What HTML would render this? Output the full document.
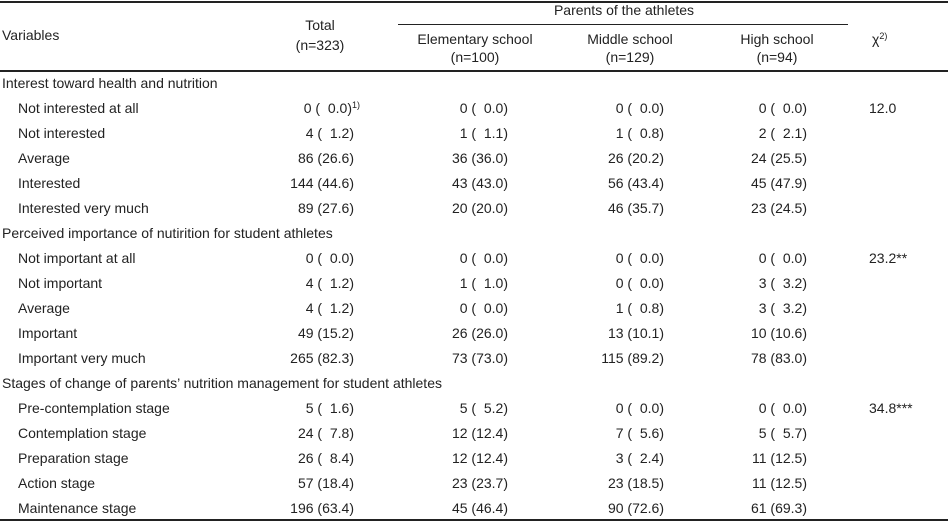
<!DOCTYPE html>
<html><head><meta charset="utf-8">
<style>
body{margin:0;background:#fff;}
#t{position:relative;width:948px;height:521px;font-family:"Liberation Sans",sans-serif;font-size:14px;color:#222;overflow:hidden;}
#t div{position:absolute;white-space:pre;line-height:18px;}
.hl{background:#222;height:2px;}
.r{text-align:right;}
.c{text-align:center;}
sup{font-size:9px;vertical-align:5px;line-height:0;}
</style></head><body>
<div id="t">
<div class="hl" style="left:0;top:1px;width:948px;"></div>
<div class="hl" style="left:0;top:70px;width:948px;"></div>
<div class="hl" style="left:398px;top:24px;width:450px;height:1px;"></div>
<div class="hl" style="left:0;top:519px;width:948px;"></div>
<div style="left:2px;top:26px;">Variables</div>
<div class="c" style="left:270px;width:100px;top:16px;">Total</div>
<div class="c" style="left:270px;width:100px;top:36px;">(n=323)</div>
<div class="c" style="left:474px;width:300px;top:1px;">Parents of the athletes</div>
<div class="c" style="left:400px;width:150px;top:30px;">Elementary school<br>(n=100)</div>
<div class="c" style="left:555px;width:150px;top:30px;">Middle school<br>(n=129)</div>
<div class="c" style="left:702px;width:150px;top:30px;">High school<br>(n=94)</div>
<div style="left:872px;top:30px;">χ<sup>2)</sup></div>
</div>
<script>
const rows=[
["s","Interest toward health and nutrition"],
["Not interested at all","0 (  0.0)","0 (  0.0)","0 (  0.0)","0 (  0.0)","12.0"],
["Not interested","4 (  1.2)","1 (  1.1)","1 (  0.8)","2 (  2.1)",""],
["Average","86 (26.6)","36 (36.0)","26 (20.2)","24 (25.5)",""],
["Interested","144 (44.6)","43 (43.0)","56 (43.4)","45 (47.9)",""],
["Interested very much","89 (27.6)","20 (20.0)","46 (35.7)","23 (24.5)",""],
["s","Perceived importance of nutirition for student athletes"],
["Not important at all","0 (  0.0)","0 (  0.0)","0 (  0.0)","0 (  0.0)","23.2**"],
["Not important","4 (  1.2)","1 (  1.0)","0 (  0.0)","3 (  3.2)",""],
["Average","4 (  1.2)","0 (  0.0)","1 (  0.8)","3 (  3.2)",""],
["Important","49 (15.2)","26 (26.0)","13 (10.1)","10 (10.6)",""],
["Important very much","265 (82.3)","73 (73.0)","115 (89.2)","78 (83.0)",""],
["s","Stages of change of parents’ nutrition management for student athletes"],
["Pre-contemplation stage","5 (  1.6)","5 (  5.2)","0 (  0.0)","0 (  0.0)","34.8***"],
["Contemplation stage","24 (  7.8)","12 (12.4)","7 (  5.6)","5 (  5.7)",""],
["Preparation stage","26 (  8.4)","12 (12.4)","3 (  2.4)","11 (12.5)",""],
["Action stage","57 (18.4)","23 (23.7)","23 (18.5)","11 (12.5)",""],
["Maintenance stage","196 (63.4)","45 (46.4)","90 (72.6)","61 (69.3)",""]
];
const rights=[354,508,664,807];
const t=document.getElementById('t');
rows.forEach((r,i)=>{
  const top=83+25*i-9;
  if(r[0]==="s"){
    const d=document.createElement('div');
    
    
    d.style.left='2px';d.style.top=top+'px';d.textContent=r[1];t.appendChild(d);return;
  }
  const l=document.createElement('div');
  
  
  l.style.left='18px';l.style.top=top+'px';l.textContent=r[0];t.appendChild(l);
  for(let k=0;k<4;k++){
    const c=document.createElement('div');
    
    
    c.className='r';c.style.left=(rights[k]-120)+'px';c.style.width='120px';c.style.top=top+'px';
    c.textContent=r[k+1];
    if(i===1&&k===0){const s=document.createElement('sup');s.textContent='1)';c.style.left=(rights[k]-120)+'px';c.appendChild(s);c.style.width='126px';}
    t.appendChild(c);
  }
  if(r[5]){
    const x=document.createElement('div');
    
    
    x.style.left='869px';x.style.top=top+'px';x.textContent=r[5];t.appendChild(x);
  }
});
</script>
</body></html>
